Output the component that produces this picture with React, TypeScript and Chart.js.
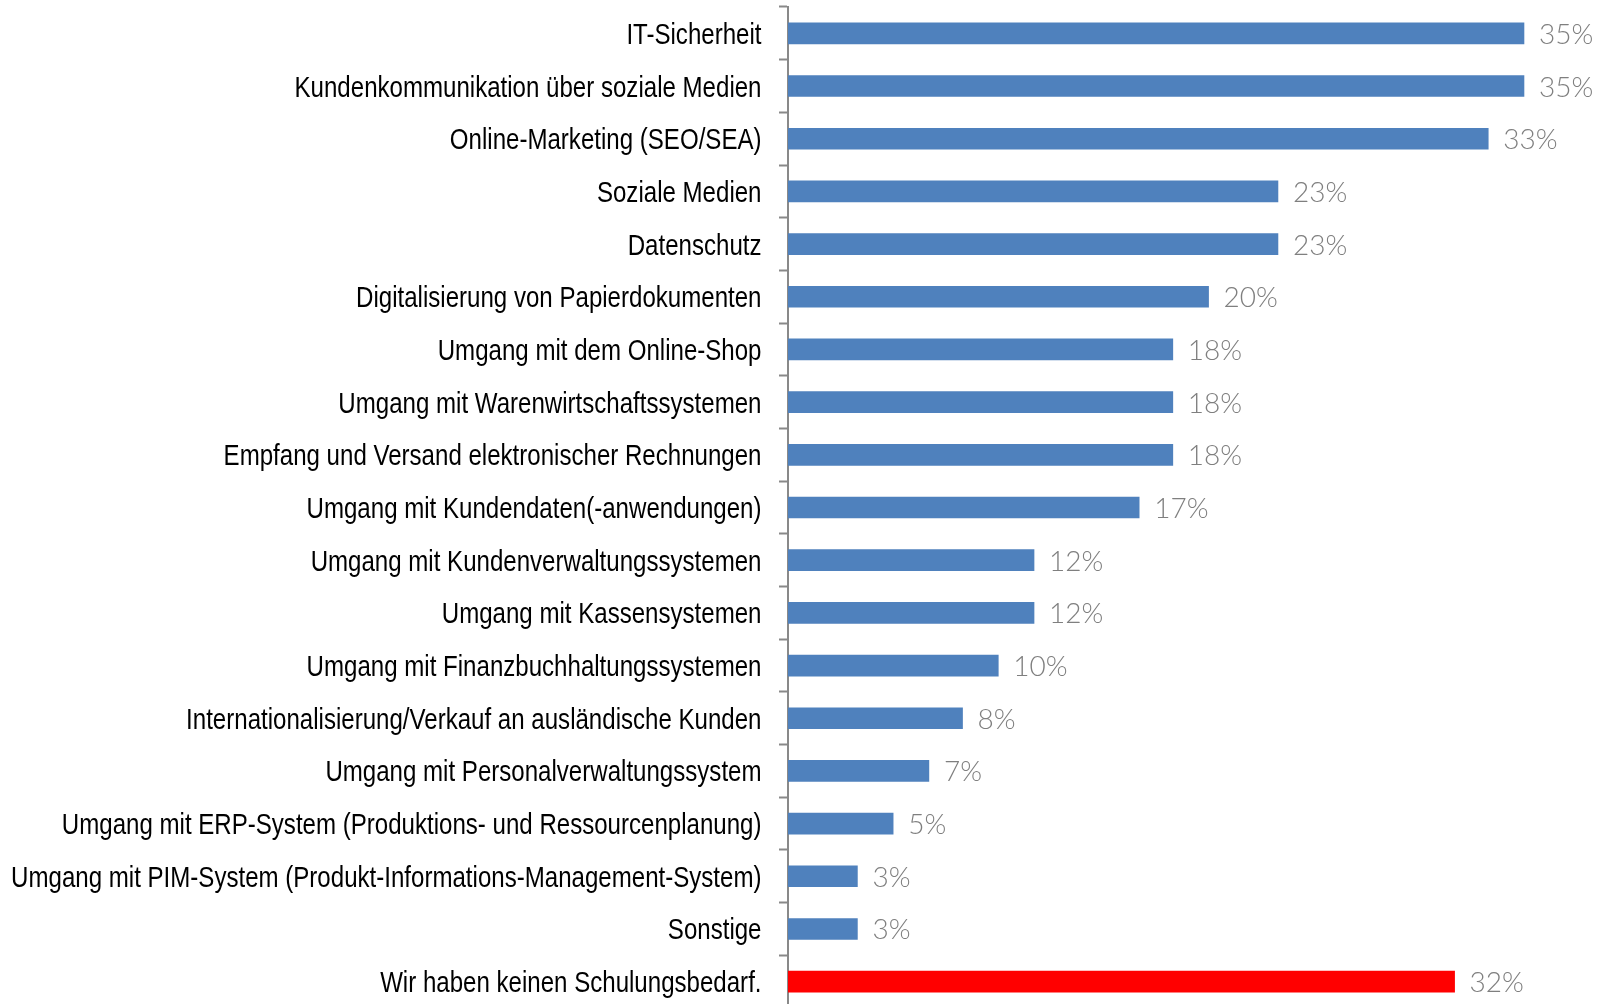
import React, { useEffect, useRef } from "react";
import { Chart, registerables } from "chart.js";

Chart.register(...registerables);

const categories: string[] = [
  "IT-Sicherheit",
  "Kundenkommunikation über soziale Medien",
  "Online-Marketing (SEO/SEA)",
  "Soziale Medien",
  "Datenschutz",
  "Digitalisierung von Papierdokumenten",
  "Umgang mit dem Online-Shop",
  "Umgang mit Warenwirtschaftssystemen",
  "Empfang und Versand elektronischer Rechnungen",
  "Umgang mit Kundendaten(-anwendungen)",
  "Umgang mit Kundenverwaltungssystemen",
  "Umgang mit Kassensystemen",
  "Umgang mit Finanzbuchhaltungssystemen",
  "Internationalisierung/Verkauf an ausländische Kunden",
  "Umgang mit Personalverwaltungssystem",
  "Umgang mit ERP-System (Produktions- und Ressourcenplanung)",
  "Umgang mit PIM-System (Produkt-Informations-Management-System)",
  "Sonstige",
  "Wir haben keinen Schulungsbedarf.",
];

const values: number[] = [
  35, 35, 33.3, 23.3, 23.3, 20, 18.3, 18.3, 18.3, 16.7, 11.7, 11.7, 10, 8.3, 6.7, 5, 3.3, 3.3, 31.7,
];

const barColors: string[] = categories.map((c, i) =>
  i === categories.length - 1 ? "#FF0000" : "#4F81BD"
);

// Draws the category labels in a narrow (horizontally condensed) Arial-like face
const categoryLabelPlugin = {
  id: "categoryLabels",
  afterDraw(chart: any) {
    const ctx = chart.ctx;
    const yScale = chart.scales.y;
    const rightX = yScale.right - 26.5;
    ctx.save();
    ctx.font = "29px 'Liberation Sans', Arial, sans-serif";
    ctx.fillStyle = "#000000";
    ctx.textAlign = "right";
    ctx.textBaseline = "alphabetic";
    categories.forEach((label, i) => {
      const y = yScale.getPixelForValue(i);
      ctx.save();
      ctx.translate(rightX, y + 10.5);
      ctx.scale(0.83, 1);
      ctx.fillText(label, 0, 0);
      ctx.restore();
    });
    ctx.restore();
  },
};

const valueLabelPlugin = {
  id: "valueLabels",
  afterDatasetsDraw(chart: any) {
    const ctx = chart.ctx;
    const meta = chart.getDatasetMeta(0);
    ctx.save();
    ctx.font = "300 28px Lato, 'Open Sans', sans-serif";
    ctx.fillStyle = "#7F7F7F";
    ctx.textAlign = "left";
    ctx.textBaseline = "alphabetic";
    meta.data.forEach((bar: any, i: number) => {
      ctx.fillText(Math.round(values[i]) + "%", bar.x + 15, bar.y + 10.5);
    });
    ctx.restore();
  },
};

export default function App() {
  const ref = useRef<HTMLCanvasElement | null>(null);
  useEffect(() => {
    if (!ref.current) return;
    const chart = new Chart(ref.current, {
      type: "bar",
      data: {
        labels: categories,
        datasets: [
          {
            data: values,
            backgroundColor: barColors,
            barThickness: 21,
          },
        ],
      },
      options: {
        indexAxis: "y",
        animation: false,
        responsive: false,
        maintainAspectRatio: false,
        layout: { padding: { top: 7, bottom: 0, left: 0, right: 0 } },
        plugins: {
          legend: { display: false },
          tooltip: { enabled: false },
        },
        scales: {
          x: {
            display: false,
            min: 0,
            max: 38.52,
          },
          y: {
            offset: true,
            afterFit: (scale: any) => {
              scale.width = 788;
              scale.paddingTop = 0;
              scale.paddingBottom = 0;
            },
            grid: {
              offset: true,
              drawOnChartArea: false,
              drawTicks: true,
              tickLength: 9,
              tickWidth: 2,
              color: "#898989",
            },
            border: { display: true, color: "#898989", width: 2 },
            ticks: {
              display: false,
            },
          },
        },
      },
      plugins: [valueLabelPlugin, categoryLabelPlugin],
    });
    return () => chart.destroy();
  }, []);
  return (
    <div style={{ position: "absolute", left: 0, top: 0, width: 1598, height: 1004, overflow: "hidden", background: "#fff" }}>
      <canvas ref={ref} width={1598} height={1008} style={{ display: "block" }} />
    </div>
  );
}
